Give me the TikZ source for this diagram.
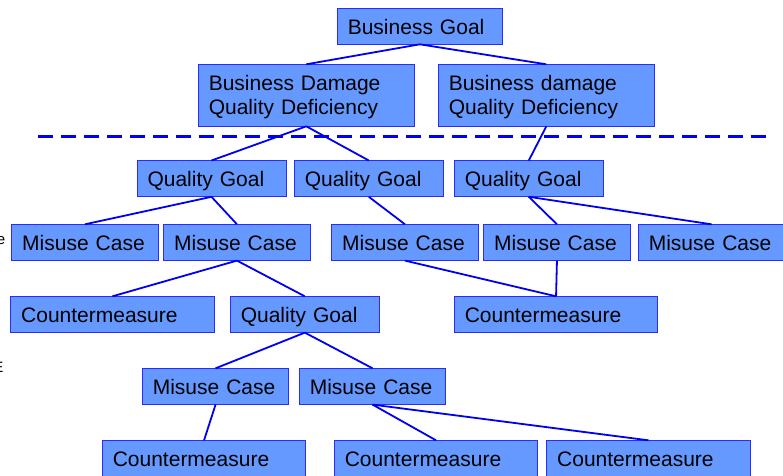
\documentclass[tikz,border=0pt]{standalone}
\usepackage{fontspec}
\setmainfont{Liberation Sans}
\definecolor{boxfill}{HTML}{6699FF}
\definecolor{boxline}{HTML}{2B2BFF}
\definecolor{linkblue}{HTML}{0000F0}

\begin{document}
\begin{tikzpicture}[x=1pt, y=-1pt,
	box/.style={draw=boxline, fill=boxfill, line width=1pt, anchor=north west,
		inner xsep=10.5pt, inner ysep=0pt, outer sep=0pt, align=left,
		font=\fontsize{21}{24.3}\selectfont, text height=16.4pt, text depth=0pt,
		minimum height=36.3pt},
	twoline/.style={text height=15pt, text depth=24.3pt, minimum height=62pt},
	bgbox/.style={text width=144pt},
	bdbox/.style={text width=195pt},
	qgbox/.style={text width=128pt},
	mcbox/.style={text width=125.5pt},
	cmbox/.style={text width=182.5pt},
	link/.style={draw=linkblue, line width=1.8pt},
	stray/.style={inner sep=0pt, anchor=east, font=\fontsize{15}{15}\selectfont}]

	\useasboundingbox (0,0) rectangle (783,475);

% business level
	\node[box, bgbox] (bg) at (337.3, 8) {Business Goal};
	\node[box, twoline, bdbox] (bd1) at (198.3, 64.3) {Business Damage\\Quality Deficiency};
	\node[box, twoline, bdbox] (bd2) at (438.3, 64.3) {Business damage\\Quality Deficiency};

% dividing line
	\coordinate (divL) at (38, 136);
	\coordinate (divR) at (770, 136);
	\draw[linkblue, line width=3pt, dash pattern=on 15pt off 8pt] (divL) -- (divR);

% quality goals
	\node[box, qgbox] (qg1) at (137, 160.5) {Quality Goal};
	\node[box, qgbox] (qg2) at (294.3, 160.5) {Quality Goal};
	\node[box, qgbox] (qg3) at (454.3, 160.5) {Quality Goal};

% misuse cases
	\node[box, mcbox] (mc1) at (11.7, 224.3) {Misuse Case};
	\node[box, mcbox] (mc2) at (163.7, 224.3) {Misuse Case};
	\node[box, mcbox] (mc3) at (331.7, 224.3) {Misuse Case};
	\node[box, mcbox] (mc4) at (483.7, 224.3) {Misuse Case};
	\node[box, mcbox] (mc5) at (638.3, 224.3) {Misuse Case};

% countermeasures and sub goal
	\node[box, cmbox] (cm1) at (10.7, 296.3) {Countermeasure};
	\node[box, qgbox] (qg4) at (230.3, 296.3) {Quality Goal};
	\node[box, cmbox] (cm2) at (454.3, 296.3) {Countermeasure};

	\node[box, mcbox] (mc6) at (142.3, 368.3) {Misuse Case};
	\node[box, mcbox] (mc7) at (299.3, 368.3) {Misuse Case};

	\node[box, cmbox] (cm3) at (102.3, 440.3) {Countermeasure};
	\node[box, cmbox] (cm4) at (334.3, 440.3) {Countermeasure};
	\node[box, cmbox] (cm5) at (546.7, 440.3) {Countermeasure};

% cut off letters at the left edge
	\node[stray] (cutA) at (5.5, 241) {e};
	\node[stray] (cutB) at (3.5, 367.5) {E};

% connectors
	\draw[link] (bg.south) -- (bd1.north);
	\draw[link] (bg.south) -- (bd2.north);
	\draw[link] (bd1.south) -- (qg1.north);
	\draw[link] (bd1.south) -- (qg2.north);
	\draw[link] (bd2.south) -- (qg3.north);

	\draw[link] (qg1.south) -- (mc1.north);
	\draw[link] (qg1.south) -- (mc2.north);
	\draw[link] (qg2.south) -- (mc3.north);
	\draw[link] (qg3.south) -- (mc4.north);
	\draw[link] (qg3.south) -- (mc5.north);

	\draw[link] (mc2.south) -- (cm1.north);
	\draw[link] (mc2.south) -- (qg4.north);
	\draw[link] (mc3.south) -- (cm2.north);
	\draw[link] (mc4.south) -- (cm2.north);

	\draw[link] (qg4.south) -- (mc6.north);
	\draw[link] (qg4.south) -- (mc7.north);
	\draw[link] (mc6.south) -- (cm3.north);
	\draw[link] (mc7.south) -- (cm4.north);
	\draw[link] (mc7.south) -- (cm5.north);

\end{tikzpicture}
\end{document}
